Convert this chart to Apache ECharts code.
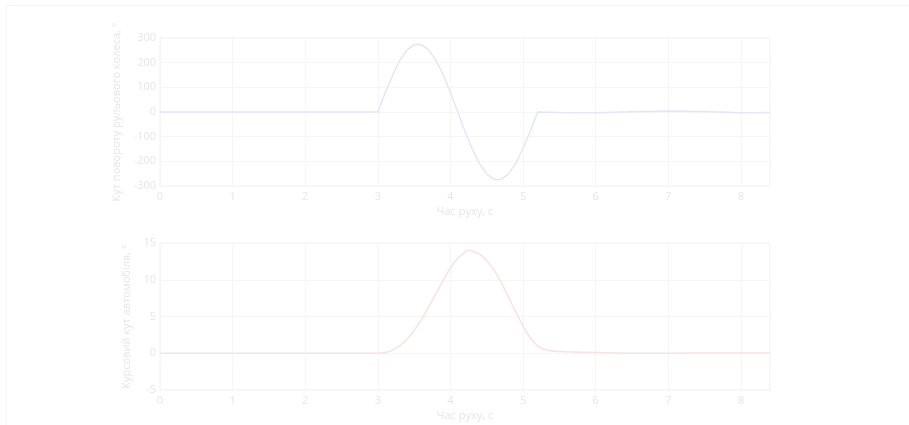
<!DOCTYPE html>
<html>
<head>
<meta charset="utf-8">
<script src="https://cdn.jsdelivr.net/npm/echarts@6/dist/echarts.min.js"></script>
<style>
  html, body { margin: 0; padding: 0; background: #ffffff; }
  #frame {
    position: absolute; left: 6px; top: 5px; width: 920px; height: 440px;
    border: 1px solid #f4f4f4; border-radius: 4px; box-sizing: border-box;
  }
  #chart { position: absolute; left: 0; top: 0; width: 909px; height: 425px; filter: blur(0.6px); }
</style>
</head>
<body>
<div id="frame"></div>
<div id="chart"></div>
<script>
// Steering wheel angle during a lane change manoeuvre (degrees)
const steerTime = [0, 0.5, 1, 1.5, 2, 2.5, 3.0, 3.05, 3.1, 3.2, 3.3, 3.4, 3.5, 3.55, 3.6, 3.7, 3.8, 3.9, 4.0, 4.1, 4.2, 4.3, 4.4, 4.5, 4.6, 4.65, 4.7, 4.8, 4.9, 5.0, 5.1, 5.15, 5.2, 5.5, 6.0, 6.5, 7.0, 7.5, 8.0, 8.4];
const steerAngle = [0, 0, 0, 0, 0, 0, 0, 39, 77, 146, 209, 251, 273, 275, 273, 252, 209, 150, 79, 0, -79, -150, -209, -252, -273, -275, -273, -251, -209, -146, -77, -39, 0, -2, -3, 1, 4, 2, -3, -2];

// Vehicle heading angle (degrees)
const headTime = [0, 0.5, 1, 1.5, 2, 2.5, 3.0, 3.1, 3.2, 3.3, 3.4, 3.5, 3.6, 3.7, 3.8, 3.9, 4.0, 4.1, 4.2, 4.25, 4.3, 4.4, 4.5, 4.6, 4.7, 4.8, 4.9, 5.0, 5.1, 5.2, 5.3, 5.4, 5.6, 6.0, 6.5, 7.0, 7.5, 8.0, 8.4];
const headAngle = [0, 0, 0, 0, 0, 0, 0, 0.1, 0.4, 1.0, 1.9, 3.1, 4.6, 6.3, 8.1, 9.9, 11.6, 12.9, 13.8, 14.0, 13.9, 13.5, 12.6, 11.3, 9.6, 7.6, 5.6, 3.7, 2.1, 1.0, 0.5, 0.3, 0.2, 0.1, 0.0, 0.0, 0.05, 0.05, 0.05];

const xTicks = [0, 1, 2, 3, 4, 5, 6, 7, 8];
const steerTicks = [-300, -200, -100, 0, 100, 200, 300];
const headTicks = [-5, 0, 5, 10, 15];

const textColor = '#e6e6e6';
const splitColor = '#f6f6f6';
const borderColor = '#f1f1f1';
const font = 'Open Sans';

function pairs(xs, ys) { return xs.map((x, i) => [x, ys[i]]); }

function xAxisFor(gridIndex) {
  return {
    type: 'value', gridIndex, min: 0, max: 8.4, interval: 1,
    name: 'Час руху, с', nameLocation: 'middle', nameGap: 20,
    nameTextStyle: { color: textColor, fontSize: 11, fontFamily: font },
    axisLine: { show: false }, axisTick: { show: false },
    axisLabel: { color: textColor, fontSize: 11, fontFamily: font, margin: 5,
      formatter: v => (xTicks.includes(v) ? String(v) : '') },
    splitLine: { show: true, lineStyle: { color: splitColor, width: 1 } }
  };
}

function yAxisFor(gridIndex, name, ticks, gap) {
  return {
    type: 'value', gridIndex, name, nameLocation: 'middle', nameGap: gap,
    min: ticks[0], max: ticks[ticks.length - 1], interval: ticks[1] - ticks[0],
    nameTextStyle: { color: textColor, fontSize: 11, fontFamily: font },
    axisLine: { show: false }, axisTick: { show: false },
    axisLabel: { color: textColor, fontSize: 11, fontFamily: font, margin: 4 },
    splitLine: { show: true, lineStyle: { color: splitColor, width: 1 } }
  };
}

const chart = echarts.init(document.getElementById('chart'), null, { renderer: 'canvas' });
chart.setOption({
  backgroundColor: 'transparent',
  animation: false,
  grid: [
    { left: 160, right: 139, top: 38, height: 148, show: true, borderColor: borderColor, borderWidth: 1, backgroundColor: 'transparent' },
    { left: 160, right: 139, top: 243, height: 147, show: true, borderColor: borderColor, borderWidth: 1, backgroundColor: 'transparent' }
  ],
  xAxis: [xAxisFor(0), xAxisFor(1)],
  yAxis: [
    yAxisFor(0, 'Кут повороту рульового колеса, °', steerTicks, 38),
    yAxisFor(1, 'Курсовий кут автомобіля, °', headTicks, 26)
  ],
  series: [
    { type: 'line', xAxisIndex: 0, yAxisIndex: 0, data: pairs(steerTime, steerAngle),
      smooth: false, showSymbol: false, lineStyle: { color: '#e4e6f8', width: 1.5 } },
    { type: 'line', xAxisIndex: 1, yAxisIndex: 1, data: pairs(headTime, headAngle),
      smooth: 0.3, showSymbol: false, lineStyle: { color: '#f8e2e2', width: 1.5 } }
  ]
});
</script>
</body>
</html>
